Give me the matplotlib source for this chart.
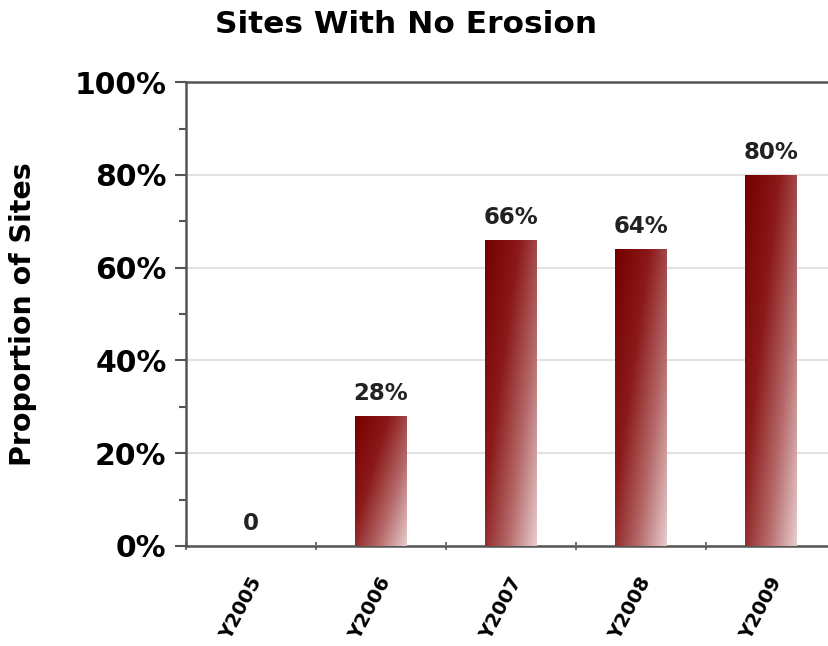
import numpy as np
import matplotlib.pyplot as plt
from matplotlib.ticker import MultipleLocator, FuncFormatter
from matplotlib.colors import LinearSegmentedColormap

# survey results
years  = ['Y2005', 'Y2006', 'Y2007', 'Y2008', 'Y2009']
values = [0, 28, 66, 64, 80]          # percent of sites with no erosion
labels = ['0', '28%', '66%', '64%', '80%']

fig = plt.figure(figsize=(8.29, 6.46), dpi=100)
ax = fig.add_axes([0.2244, 0.1548, 0.784, 0.718])

x = np.arange(len(years))
width = 0.4

# diagonal gradient: dark maroon top-left fading to pale pink bottom-right
cmap = LinearSegmentedColormap.from_list('maroon', ['#760000', '#8c1a1a', '#b56a6a', '#e8cccc'])
gx, gy = np.meshgrid(np.linspace(0, 1, 60), np.linspace(0, 1, 200))

bars = ax.bar(x, values, width, color='none', edgecolor='none', zorder=3)
for b, v in zip(bars, values):
    if v <= 0:
        continue
    x0, x1 = b.get_x(), b.get_x() + b.get_width()
    # grad: 0 at top-left, 1 at bottom-right
    g = 0.55 * gx + 0.45 * (1 - gy)
    g = g ** 1.1
    im = ax.imshow(g, cmap=cmap, vmin=0, vmax=1, origin='lower',
                   extent=[x0, x1, 0, v], aspect='auto', zorder=3,
                   interpolation='bilinear')
    im.set_clip_path(b)

for xi, v, t in zip(x, values, labels):
    ax.text(xi, v + 2.4, t, ha='center', va='bottom', fontsize=16.5,
            fontweight='bold', color='#222222')

ax.set_xlim(-0.5, len(years) - 0.5)
ax.set_ylim(0, 100)

ax.yaxis.set_major_locator(MultipleLocator(20))
ax.yaxis.set_minor_locator(MultipleLocator(10))
ax.yaxis.set_major_formatter(FuncFormatter(lambda v, p: '%d%%' % v))
ax.grid(axis='y', which='major', color='#e2e2e2', linewidth=1.5, zorder=0)

ax.set_xticks(x - 0.5, minor=False)
ax.set_xticklabels([])
ax.set_xticks(x - 0.02, minor=True)
ax.set_xticklabels(years, minor=True, rotation=62, ha='right',
                   rotation_mode='anchor', fontsize=14, fontweight='bold')
ax.tick_params(axis='x', which='minor', length=0, pad=20)
ax.tick_params(axis='x', which='major', length=6, width=1.2, color='#555555', direction='inout')
ax.tick_params(axis='y', which='major', length=8, width=1.5, color='#555555',
               labelsize=21.5, pad=6)
ax.tick_params(axis='y', which='minor', length=5, width=1.5, color='#555555')
for lab in ax.get_yticklabels():
    lab.set_fontweight('bold')

for s in ['left', 'bottom', 'top']:
    ax.spines[s].set_color('#555555')
    ax.spines[s].set_linewidth(1.8)
ax.spines['right'].set_visible(False)

ax.set_ylabel('Proportion of Sites', fontsize=20.5, fontweight='bold', labelpad=27)
fig.text(0.49, 0.962, 'Sites With No Erosion', ha='center', va='center',
         fontsize=22.5, fontweight='bold')

fig.savefig('out.png', dpi=100)
